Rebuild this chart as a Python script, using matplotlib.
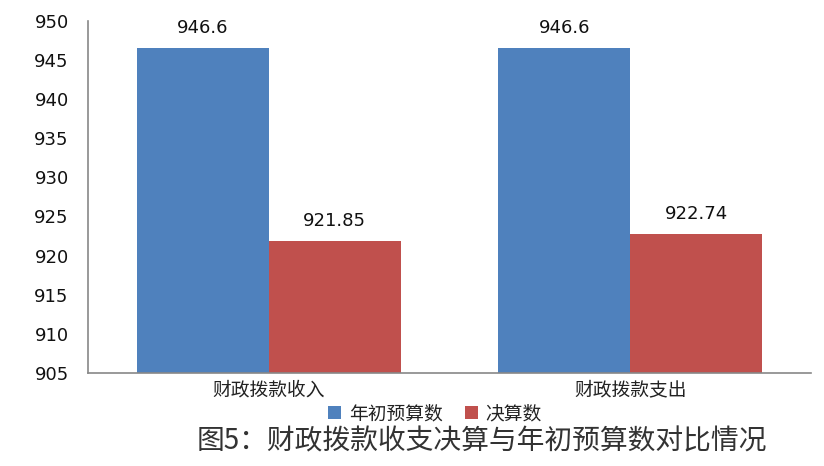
import numpy as np
import matplotlib.pyplot as plt

plt.rcParams['font.family'] = ['Noto Sans CJK SC', 'DejaVu Sans']

categories = ["财政拨款收入", "财政拨款支出"]
budget = [946.6, 946.6]
final = [921.85, 922.74]
budget_labels = ["946.6", "946.6"]
final_labels = ["921.85", "922.74"]

fig = plt.figure(figsize=(8.24, 4.66), dpi=100)
ax = fig.add_axes([0.107, 0.2, 0.877, 0.755])

x = np.arange(len(categories))
w = 0.365
b1 = ax.bar(x - w / 2, budget, w, color="#4F81BD", label="年初预算数")
b2 = ax.bar(x + w / 2, final, w, color="#C0504D", label="决算数")

for bars, labels in ((b1, budget_labels), (b2, final_labels)):
    for rect, lab in zip(bars, labels):
        ax.text(rect.get_x() + rect.get_width() / 2, rect.get_height() + 1.4, lab,
                ha="center", va="bottom", fontsize=13, color="#111111",
                family="DejaVu Sans")

ax.set_ylim(905, 950)
ax.set_xlim(-0.5, 1.5)
ax.set_yticks(np.arange(905, 951, 5))
ax.tick_params(axis="y", length=0, labelsize=13, pad=14, labelcolor="#111111")
for t in ax.get_yticklabels():
    t.set_family("DejaVu Sans")
ax.set_xticks(x)
ax.set_xticklabels(categories, fontsize=13.5, color="#222222")
ax.tick_params(axis="x", length=0, pad=5)

for s in ("top", "right"):
    ax.spines[s].set_visible(False)
for s in ("left", "bottom"):
    ax.spines[s].set_color("#888888")
    ax.spines[s].set_linewidth(1.2)

leg = fig.legend(loc="center", bbox_to_anchor=(0.528, 0.112), ncol=2, frameon=False,
                 fontsize=13.5, handlelength=0.7, handleheight=0.7, handletextpad=0.4,
                 columnspacing=1.2)
for t in leg.get_texts():
    t.set_color("#222222")

fig.text(0.585, 0.052, "图5：财政拨款收支决算与年初预算数对比情况", ha="center",
         va="center", fontsize=20, color="#333333")

fig.savefig("out.png", dpi=100)
